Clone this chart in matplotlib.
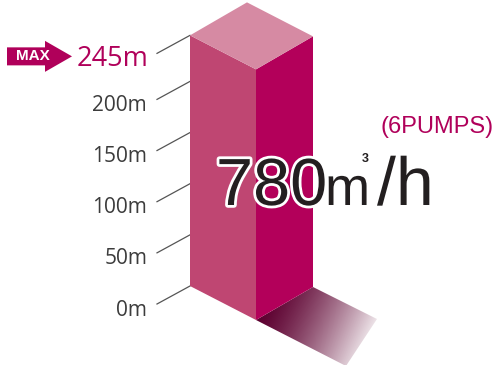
import numpy as np
import matplotlib.pyplot as plt
import matplotlib.patheffects as pe
from matplotlib.patches import Polygon
from matplotlib import font_manager

# data
tick_values = [0, 50, 100, 150, 200]
tick_labels = ['0m', '50m', '100m', '150m', '200m']
max_head = 245
max_label = '245m'
flow_value = '780'
flow_unit_m = 'm'
flow_unit_sup = '3'
flow_unit_h = '/h'
pumps_label = '(6PUMPS)'

MAGENTA = '#b0005a'
LEFT_FACE = '#bf4672'
RIGHT_FACE = '#b3005a'
TOP_FACE = '#d68aa3'
SHADOW = np.array([0x5c, 0x00, 0x30]) / 255.0

# vertical scale: pixels per metre, pixel row of 0 m at the bar's left edge
k = 1.023
Y0 = 286.0

def m(py):
    # pixel row -> metres
    return (Y0 - py) / k

def dm(dpy):
    # pixel offset (down positive) -> metre offset
    return -dpy / k

try:
    font_manager.findfont('Liberation Sans Narrow', fallback_to_default=False)
    big_font = ['Liberation Sans Narrow', 'DejaVu Sans']
except ValueError:
    big_font = ['Liberation Sans', 'DejaVu Sans']

fig = plt.figure(figsize=(4.97, 3.65), dpi=100)
ax = fig.add_axes([0, 0, 1, 1])
ax.set_axis_off()

# ---- bar geometry (isometric box)
front_x, left_x, right_x = 256, 190, 313
fb = np.array([front_x, dm(34)])            # front bottom
L = np.array([left_x - front_x, -dm(34)])   # to left corner
R = np.array([right_x - front_x, -dm(33)])  # to right corner
H = np.array([0, max_head])
ft = fb + H

ax.add_patch(Polygon([fb, fb + L, ft + L, ft], closed=True, fc=LEFT_FACE, ec='none', zorder=2))
ax.add_patch(Polygon([fb, fb + R, ft + R, ft], closed=True, fc=RIGHT_FACE, ec='none', zorder=2))
ax.add_patch(Polygon([ft, ft + L, ft + L + R, ft + R], closed=True, fc=TOP_FACE, ec='none', zorder=2))

# ---- shadow with gradient
S1 = np.array([64, dm(32)])
S2 = np.array([90, dm(46)])
shadow = Polygon([fb, fb + R, fb + R + S1, fb + S2], closed=True, fc='none', ec='none',
                 transform=ax.transData)
ax.add_patch(shadow)
gx = np.linspace(250, 410, 320)
gy = np.linspace(280, 370, 180)
XX, YY = np.meshgrid(gx, gy)
ang = np.deg2rad(25)
t = ((XX - 256) * np.cos(ang) + (YY - 322) * np.sin(ang)) / 118.0
t = np.clip(t, 0, 1)
img = np.zeros(XX.shape + (4,))
img[..., :3] = SHADOW
img[..., 3] = 1 - t ** 1.4
im = ax.imshow(img, extent=[250, 410, m(370), m(280)], origin='upper',
               aspect='auto', interpolation='bilinear', zorder=1)
im.set_clip_path(shadow)

# ---- ticks and labels
for v, lab in zip(tick_values, tick_labels):
    ax.plot([left_x, 157], [v, v + dm(18)], color='#555555', lw=0.9, zorder=1)
    ax.text(147, v + dm(18) + dm(11.5), lab, ha='right', va='baseline',
            fontsize=15, color='#3c3c3c', family=['Open Sans', 'DejaVu Sans'])

ax.plot([left_x, 157], [max_head, max_head + dm(18)], color='#555555', lw=0.9, zorder=1)
ax.text(148, max_head + dm(18) + dm(12.5), max_label, ha='right', va='baseline',
        fontsize=19.5, color=MAGENTA, family=['Open Sans', 'DejaVu Sans'])

# MAX arrow
cy = max_head + dm(18) + dm(3)
arrow = [(7, cy + 9 / k), (45, cy + 9 / k), (45, cy + 15.5 / k), (72, cy),
         (45, cy - 15.5 / k), (45, cy - 9 / k), (7, cy - 9 / k)]
ax.add_patch(Polygon(arrow, closed=True, fc=MAGENTA, ec='none', zorder=3))
ax.text(33, cy, 'MAX', ha='center', va='center', fontsize=11, fontweight='bold',
        color='white', family=['Liberation Sans', 'DejaVu Sans'], zorder=4)

# ---- flow text
stroke = [pe.withStroke(linewidth=4, foreground='white')]
ax.text(216, m(205), flow_value, ha='left', va='baseline', fontsize=48, color='#231f20',
        family=big_font, path_effects=stroke, zorder=5)
ax.text(325, m(205), flow_unit_m, ha='left', va='baseline', fontsize=39, color='#231f20',
        family=big_font, path_effects=stroke, zorder=5)
ax.text(362, m(162), flow_unit_sup, ha='left', va='baseline', fontsize=9, fontweight='bold',
        color='#231f20', family=big_font, zorder=5)
ax.text(377, m(205), flow_unit_h, ha='left', va='baseline', fontsize=49, color='#231f20',
        family=big_font, path_effects=stroke, zorder=5)
ax.text(380, m(133), pumps_label, ha='left', va='baseline', fontsize=17, color=MAGENTA,
        family=['Liberation Sans', 'DejaVu Sans'], zorder=5)

ax.set_xlim(0, 497)
ax.set_ylim(m(365), m(0))

fig.savefig('out.png', dpi=100)
